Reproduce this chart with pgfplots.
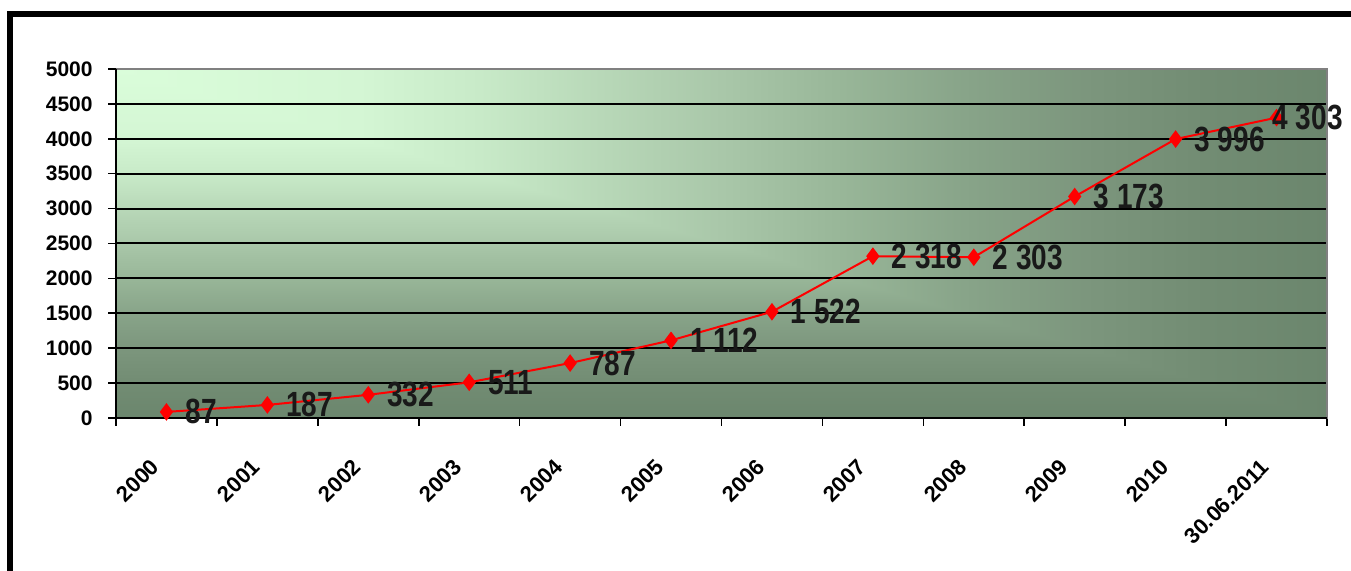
\documentclass[border=0pt]{standalone}
\usepackage{pgfplots}
\pgfplotsset{compat=1.18}
\usepackage{pgfplotstable}
\usepackage{fontspec}
\setmainfont{Liberation Sans}
\newfontfamily\narrowfont[FakeStretch=0.8]{Liberation Sans}

\definecolor{g0}{RGB}{218,253,218}
\definecolor{g2}{RGB}{212,246,212}
\definecolor{g3}{RGB}{200,234,200}
\definecolor{g4}{RGB}{184,216,184}
\definecolor{g5}{RGB}{169,199,169}
\definecolor{g6}{RGB}{152,182,152}
\definecolor{g7}{RGB}{136,164,137}
\definecolor{g8}{RGB}{124,150,125}
\definecolor{g9}{RGB}{114,140,115}
\definecolor{g10}{RGB}{107,134,109}

\pgfdeclarehorizontalshading{hgrad}{100bp}{%
color(0bp)=(g0); color(25bp)=(g0); color(35bp)=(g2); color(40bp)=(g3);
color(45bp)=(g4); color(50bp)=(g5); color(55bp)=(g6); color(60bp)=(g7);
color(65bp)=(g8); color(70bp)=(g9); color(75bp)=(g10); color(100bp)=(g10)}
\pgfdeclareverticalshading{vgrad}{100bp}{%
color(0bp)=(g10); color(25bp)=(g10); color(30bp)=(g9); color(35bp)=(g8);
color(40bp)=(g7); color(45bp)=(g6); color(50bp)=(g5); color(55bp)=(g4);
color(60bp)=(g3); color(65bp)=(g2); color(75bp)=(g0); color(100bp)=(g0)}

\pgfplotstableread{
x y dx
0 87 9
1 187 9
2 332 9
3 511 9
4 787 9
5 1112 9
6 1522 9
7 2318 9
8 2303 9
9 3173 9
10 3996 9
11 4303 -2.5
}\datatable

\begin{document}
\begin{tikzpicture}
\useasboundingbox (0,0) rectangle (675.5pt,285.5pt);
% plot-area background (corner gradient)
\shade[shading=vgrad] (58pt,76.5pt) rectangle (663.5pt,251pt);
\begin{scope}
\clip (58pt,251pt) -- (663.5pt,251pt) -- (663.5pt,76.5pt) -- cycle;
\shade[shading=hgrad] (58pt,76.5pt) rectangle (663.5pt,251pt);
\end{scope}
\begin{axis}[
  at={(58pt,76.5pt)}, anchor=south west,
  scale only axis, width=605.5pt, height=174.5pt,
  xmin=-0.5, xmax=11.5, ymin=0, ymax=5000,
  clip=false,
  axis line style={draw=gray, line width=0.6pt},
  tick align=outside,
  tick pos=left,
  xtick={0,...,11},
  xticklabels={2000,2001,2002,2003,2004,2005,2006,2007,2008,2009,2010,30.06.2011},
  major x tick style={draw=none},
  minor xtick={-0.5,0.5,...,11.5},
  minor x tick style={black, line width=0.8pt},
  minor tick length=4pt,
  ytick={0,500,...,4500},
  extra y ticks={5000},
  extra y tick style={grid=none},
  ymajorgrids,
  major grid style={black, line width=1pt},
  major y tick style={black, line width=0.8pt},
  major tick length=4pt,
  /pgf/number format/assume math mode=true,
  yticklabel style={font=\fontsize{10.5}{12}\selectfont\bfseries, inner sep=0pt, xshift=-7.5pt, /pgf/number format/1000 sep={}},
  xticklabel style={font=\fontsize{11}{12}\selectfont\bfseries, inner sep=0pt, xshift=-5.5pt, yshift=-18.5pt, rotate=45, anchor=east},
  nodes near coords,
  point meta=y,
  visualization depends on={\thisrow{dx} \as \dx},
  nodes near coords style={font=\fontsize{17.5}{19}\narrowfont\bfseries, anchor=west, inner sep=0pt, xshift=\dx pt, text=black!90,
    /pgf/number format/.cd, fixed, precision=0, 1000 sep={\ }},
]
\addplot[red, line width=1pt, mark=diamond*, mark size=3.6pt, mark options={fill=red, draw=red}] table[x=x, y=y] {\datatable};
\draw[black, line width=1pt] (axis cs:-0.5,5000) -- (axis cs:-0.5,0) -- (axis cs:11.5,0);
\end{axis}
\begin{scope}
\clip (0,0) rectangle (675.5pt,285.5pt);
\draw[black, line width=3pt] (5pt,-20pt) -- (5pt,278.5pt) -- (700pt,278.5pt);
\end{scope}
\end{tikzpicture}
\end{document}
